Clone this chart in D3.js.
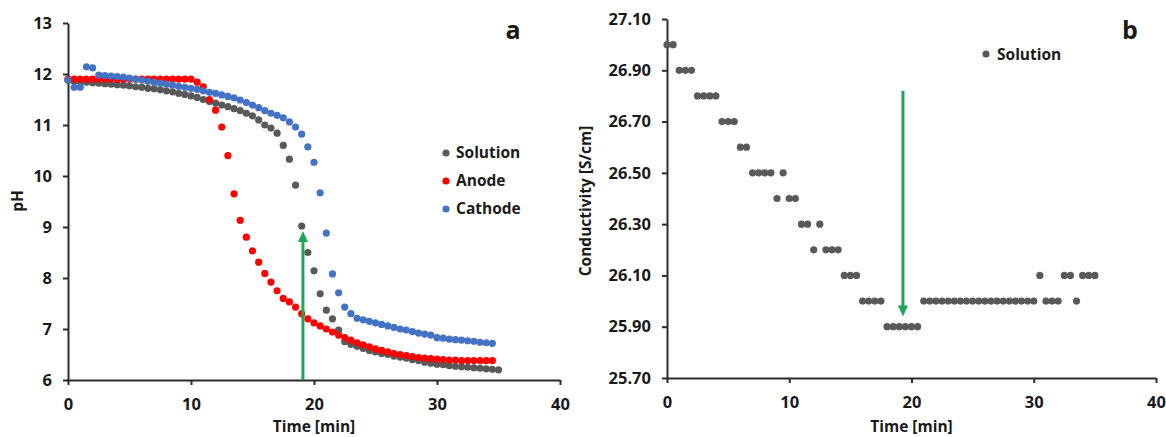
<!DOCTYPE html>
<html><head><meta charset="utf-8">
<script src="https://cdn.jsdelivr.net/npm/d3@7"></script>
<style>
body{margin:0;background:#fff;}
text{font-family:"Open Sans",sans-serif;font-weight:700;fill:#1a1a1a;}
</style></head>
<body>
<svg id="chart" width="1166" height="437"></svg>
<script>
// ---------- Data ----------
const timeA = [0,0.5,1,1.5,2,2.5,3,3.5,4,4.5,5,5.5,6,6.5,7,7.5,8,8.5,9,9.5,10,10.5,11,11.5,12,12.5,13,13.5,14,14.5,15,15.5,16,16.5,17,17.5,18,18.5,19,19.5,20,20.5,21,21.5,22,22.5,23,23.5,24,24.5,25,25.5,26,26.5,27,27.5,28,28.5,29,29.5,30,30.5,31,31.5,32,32.5,33,33.5,34,34.5,35];
const solutionPH = [11.88,11.86,11.85,11.84,11.83,11.82,11.81,11.8,11.79,11.78,11.77,11.75,11.74,11.72,11.71,11.69,11.67,11.65,11.62,11.6,11.57,11.54,11.5,11.46,11.43,11.39,11.36,11.32,11.28,11.23,11.18,11.1,11.0,10.94,10.84,10.6,10.33,9.82,9.02,8.5,8.14,7.69,7.37,7.2,6.98,6.75,6.7,6.66,6.62,6.58,6.55,6.52,6.5,6.47,6.45,6.43,6.4,6.38,6.35,6.33,6.31,6.3,6.28,6.27,6.26,6.25,6.24,6.23,6.22,6.21,6.2];
const anodePH = [11.9,11.9,11.9,11.9,11.9,11.9,11.9,11.9,11.9,11.9,11.9,11.9,11.9,11.9,11.9,11.9,11.9,11.9,11.9,11.9,11.9,11.84,11.75,11.5,11.29,10.96,10.4,9.65,9.13,8.8,8.53,8.31,8.09,7.92,7.75,7.6,7.53,7.43,7.3,7.2,7.12,7.06,7.0,6.94,6.88,6.83,6.78,6.73,6.69,6.65,6.61,6.58,6.55,6.52,6.5,6.48,6.46,6.44,6.43,6.42,6.41,6.4,6.39,6.39,6.38,6.38,6.38,6.38,6.38,6.38];
const cathodePH = [11.88,11.74,11.74,12.14,12.12,11.98,11.97,11.96,11.95,11.94,11.92,11.9,11.88,11.86,11.84,11.82,11.8,11.78,11.76,11.74,11.72,11.7,11.67,11.64,11.62,11.59,11.56,11.53,11.49,11.44,11.39,11.34,11.28,11.23,11.19,11.14,11.06,10.96,10.82,10.57,10.27,9.67,8.88,8.08,7.71,7.43,7.3,7.21,7.18,7.15,7.12,7.09,7.06,7.03,7.0,6.98,6.95,6.92,6.9,6.88,6.83,6.82,6.8,6.79,6.78,6.77,6.76,6.74,6.73,6.72];
const conductivity = [27.0,27.0,26.9,26.9,26.9,26.8,26.8,26.8,26.8,26.7,26.7,26.7,26.6,26.6,26.5,26.5,26.5,26.5,26.4,26.5,26.4,26.4,26.3,26.3,26.2,26.3,26.2,26.2,26.2,26.1,26.1,26.1,26.0,26.0,26.0,26.0,25.9,25.9,25.9,25.9,25.9,25.9,26.0,26.0,26.0,26.0,26.0,26.0,26.0,26.0,26.0,26.0,26.0,26.0,26.0,26.0,26.0,26.0,26.0,26.0,26.0,26.1,26.0,26.0,26.0,26.1,26.1,26.0,26.1,26.1,26.1];
const xTicks = [0,10,20,30,40];
const phTicks = [6,7,8,9,10,11,12,13];
const condTicks = [25.7,25.9,26.1,26.3,26.5,26.7,26.9,27.1];
const seriesNames = ["Solution","Anode","Cathode"];
const seriesColors = ["#595959","#ff0000","#4472c4"];
const arrowA = {t:19.1, from:6, to:8.92};
const arrowB = {t:19.3, from:26.82, to:25.94};

// ---------- Drawing ----------
const svg = d3.select("#chart");
const green = "#1fa654";
const axisColor = "#2b2b2b";

function styleAxis(g){
  g.select(".domain").attr("stroke",axisColor).attr("stroke-width",2);
  g.selectAll(".tick line").attr("stroke",axisColor).attr("stroke-width",2);
  g.selectAll(".tick text").style("font-family","'Open Sans',sans-serif").style("font-weight","700").style("font-size","16.5px").attr("fill","#1a1a1a");
}

function arrow(x, y1, y2){
  const dir = y2 < y1 ? -1 : 1;
  svg.append("line").attr("x1",x).attr("x2",x).attr("y1",y1).attr("y2",y2 - dir*9)
     .attr("stroke",green).attr("stroke-width",3);
  svg.append("path")
     .attr("d",`M${x},${y2} L${x-5},${y2-dir*11} L${x+5},${y2-dir*11} Z`)
     .attr("fill",green);
}

// Panel a
const xA = d3.scaleLinear().domain([0,40]).range([68,560]);
const yA = d3.scaleLinear().domain([6,13]).range([380,23]);
const gxA = svg.append("g").attr("transform",`translate(0,${yA(6)})`)
  .call(d3.axisBottom(xA).tickValues(xTicks).tickFormat(d3.format("d")).tickSize(5).tickPadding(13).tickSizeOuter(0));
styleAxis(gxA);
const gyA = svg.append("g").attr("transform",`translate(${xA(0)},0)`)
  .call(d3.axisLeft(yA).tickValues(phTicks).tickFormat(d3.format("d")).tickSize(5).tickPadding(11).tickSizeOuter(0));
styleAxis(gyA);

const seriesA = [solutionPH, anodePH, cathodePH];
seriesA.forEach((vals,i)=>{
  svg.append("g").selectAll("circle").data(vals).join("circle")
    .attr("cx",(d,j)=>xA(timeA[j])).attr("cy",d=>yA(d)).attr("r",3.6)
    .attr("fill",seriesColors[i]);
});
arrow(xA(arrowA.t), yA(arrowA.from), yA(arrowA.to));

// legend a
seriesNames.forEach((n,i)=>{
  const y = 153 + i*28;
  svg.append("circle").attr("cx",446).attr("cy",y).attr("r",3.6).attr("fill",seriesColors[i]);
  svg.append("text").attr("x",456).attr("y",y).attr("dy","0.35em").style("font-size","15.5px").text(n);
});
svg.append("text").attr("x",513).attr("y",30).attr("dy","0.35em").attr("text-anchor","middle").style("font-size","25px").text("a");
svg.append("text").attr("x",(xA(0)+xA(40))/2).attr("y",427).attr("dy","0.35em").attr("text-anchor","middle").style("font-size","15.5px").text("Time [min]");
svg.append("text").attr("transform",`translate(18,201) rotate(-90)`).attr("dy","0.35em").attr("text-anchor","middle").style("font-size","15.5px").text("pH");

// Panel b
const xB = d3.scaleLinear().domain([0,40]).range([667,1156]);
const yB = d3.scaleLinear().domain([25.7,27.1]).range([378,19]);
const gxB = svg.append("g").attr("transform",`translate(0,${yB(25.7)})`)
  .call(d3.axisBottom(xB).tickValues(xTicks).tickFormat(d3.format("d")).tickSize(5).tickPadding(13).tickSizeOuter(0));
styleAxis(gxB);
const gyB = svg.append("g").attr("transform",`translate(${xB(0)},0)`)
  .call(d3.axisLeft(yB).tickValues(condTicks).tickFormat(d3.format(".2f")).tickSize(5).tickPadding(11).tickSizeOuter(0));
styleAxis(gyB);

svg.append("g").selectAll("circle").data(conductivity).join("circle")
  .attr("cx",(d,j)=>xB(timeA[j])).attr("cy",d=>yB(d)).attr("r",3.6).attr("fill",seriesColors[0]);
arrow(xB(arrowB.t), yB(arrowB.from), yB(arrowB.to));

svg.append("circle").attr("cx",986).attr("cy",54).attr("r",3.6).attr("fill",seriesColors[0]);
svg.append("text").attr("x",997).attr("y",55).attr("dy","0.35em").style("font-size","15.5px").text(seriesNames[0]);
svg.append("text").attr("x",1130).attr("y",30).attr("dy","0.35em").attr("text-anchor","middle").style("font-size","25px").text("b");
svg.append("text").attr("x",(xB(0)+xB(40))/2).attr("y",427).attr("dy","0.35em").attr("text-anchor","middle").style("font-size","15.5px").text("Time [min]");
svg.append("text").attr("transform",`translate(586,201) rotate(-90)`).attr("dy","0.35em").attr("text-anchor","middle").style("font-size","15.5px").text("Conductivity [S/cm]");
</script>
</body></html>
